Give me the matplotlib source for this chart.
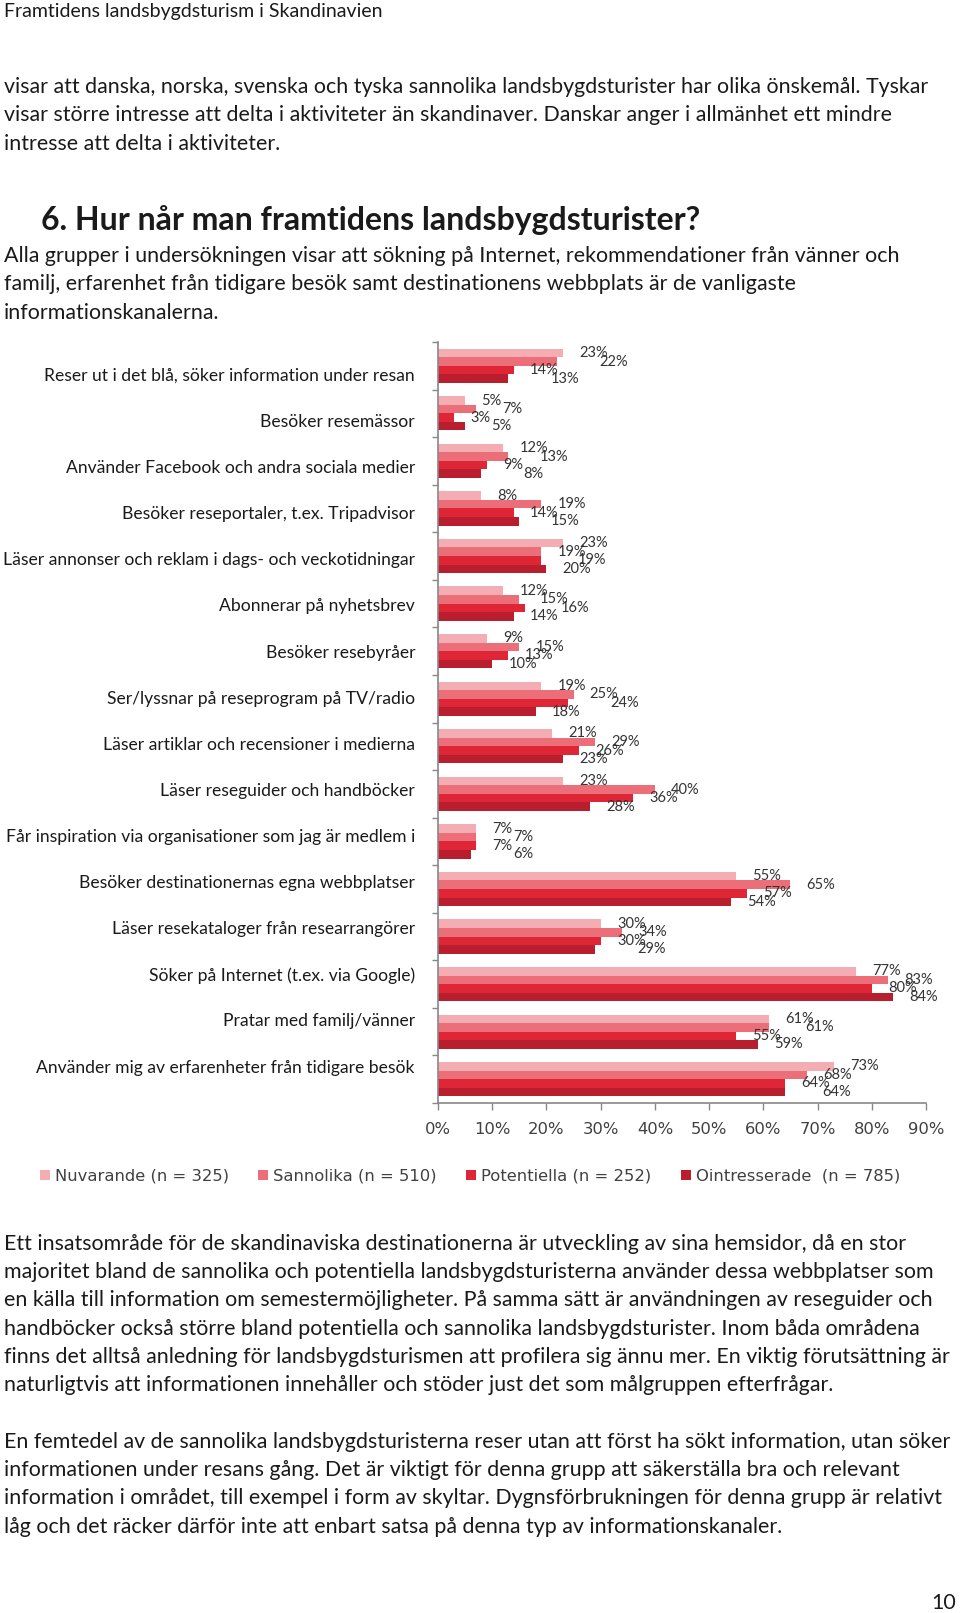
import numpy as np
import matplotlib
matplotlib.use("Agg")
from matplotlib import pyplot as plt
from matplotlib.patches import Patch

# data, listed top to bottom as in the chart
categories = [
    "Reser ut i det blå, söker information under resan",
    "Besöker resemässor",
    "Använder Facebook och andra sociala medier",
    "Besöker reseportaler, t.ex. Tripadvisor",
    "Läser annonser och reklam i dags- och veckotidningar",
    "Abonnerar på nyhetsbrev",
    "Besöker resebyråer",
    "Ser/lyssnar på reseprogram på TV/radio",
    "Läser artiklar och recensioner i medierna",
    "Läser reseguider och handböcker",
    "Får inspiration via organisationer som jag är medlem i",
    "Besöker destinationernas egna webbplatser",
    "Läser resekataloger från researrangörer",
    "Söker på Internet (t.ex. via Google)",
    "Pratar med familj/vänner",
    "Använder mig av erfarenheter från tidigare besök",
]
nuvarande = [23, 5, 12, 8, 23, 12, 9, 19, 21, 23, 7, 55, 30, 77, 61, 73]
sannolika = [22, 7, 13, 19, 19, 15, 15, 25, 29, 40, 7, 65, 34, 83, 61, 68]
potentiella = [14, 3, 9, 14, 19, 16, 13, 24, 26, 36, 7, 57, 30, 80, 55, 64]
ointresserade = [13, 5, 8, 15, 20, 14, 10, 18, 23, 28, 6, 54, 29, 84, 59, 64]
series_names = ["Nuvarande (n = 325)", "Sannolika (n = 510)",
                "Potentiella (n = 252)", "Ointresserade  (n = 785)"]
x_ticks = [0, 10, 20, 30, 40, 50, 60, 70, 80, 90]

colors = ["#f4adb3", "#eb6e78", "#de2637", "#b81e2e"]
series = [nuvarande, sannolika, potentiella, ointresserade]

W, H = 960, 1613
fig = plt.figure(figsize=(W / 100, H / 100), dpi=100)
body_font = "Lato"
txt_col = "#1a1a1a"
body_size = 15.4

def put(x, y, s, size=body_size, **kw):
    # x, y in pixels from top-left of the page
    fig.text(x / W, 1 - y / H, s, fontsize=size, family=body_font,
             color=kw.pop("color", txt_col), va="center", ha=kw.pop("ha", "left"), **kw)

put(4, 11, "Framtidens landsbygdsturism i Skandinavien", size=14.0)

para1 = ["visar att danska, norska, svenska och tyska sannolika landsbygdsturister har olika önskemål. Tyskar",
         "visar större intresse att delta i aktiviteter än skandinaver. Danskar anger i allmänhet ett mindre",
         "intresse att delta i aktiviteter."]
for i, line in enumerate(para1):
    put(4, 87 + i * 28.3, line)

put(41, 220, "6. Hur når man framtidens landsbygdsturister?", size=23, weight="bold")

para2 = ["Alla grupper i undersökningen visar att sökning på Internet, rekommendationer från vänner och",
         "familj, erfarenhet från tidigare besök samt destinationens webbplats är de vanligaste",
         "informationskanalerna."]
for i, line in enumerate(para2):
    put(4, 256 + i * 28.3, line)

para3 = ["Ett insatsområde för de skandinaviska destinationerna är utveckling av sina hemsidor, då en stor",
         "majoritet bland de sannolika och potentiella landsbygdsturisterna använder dessa webbplatser som",
         "en källa till information om semestermöjligheter. På samma sätt är användningen av reseguider och",
         "handböcker också större bland potentiella och sannolika landsbygdsturister. Inom båda områdena",
         "finns det alltså anledning för landsbygdsturismen att profilera sig ännu mer. En viktig förutsättning är",
         "naturligtvis att informationen innehåller och stöder just det som målgruppen efterfrågar."]
for i, line in enumerate(para3):
    put(4, 1244 + i * 28.2, line)

para4 = ["En femtedel av de sannolika landsbygdsturisterna reser utan att först ha sökt information, utan söker",
         "informationen under resans gång. Det är viktigt för denna grupp att säkerställa bra och relevant",
         "information i området, till exempel i form av skyltar. Dygnsförbrukningen för denna grupp är relativt",
         "låg och det räcker därför inte att enbart satsa på denna typ av informationskanaler."]
for i, line in enumerate(para4):
    put(4, 1442 + i * 28.2, line)

put(956, 1603, "10", size=body_size, ha="right")

# chart
ax = fig.add_axes([438 / W, 1 - 1103 / H, 488 / W, 761 / H])
n = len(categories)
pos = np.arange(n)[::-1]
h = 0.18
offsets = [1.5 * h, 0.5 * h, -0.5 * h, -1.5 * h]
for vals, c, off in zip(series, colors, offsets):
    ax.barh(pos + off, vals, height=h, color=c, linewidth=0)

# data labels, nudged sideways when neighbouring values sit close together
for k in range(n):
    prev_x = None
    for vals, off in zip(series, offsets):
        lx = vals[k] + 3.0
        if prev_x is not None and abs(lx - prev_x) < 3.5:
            lx = prev_x + 3.8 if lx >= prev_x - 1 else lx
        ax.text(lx, pos[k] + off, f"{vals[k]}%", fontsize=10.5, family=body_font,
                color="#333333", va="center", ha="left")
        prev_x = lx

ax.set_xlim(0, 90)
ax.set_ylim(-0.5, n - 0.5)
ax.set_xticks(x_ticks)
ax.set_xticklabels([f"{t}%" for t in x_ticks], fontsize=11.8, color="#404040",
                   family="DejaVu Sans")
ax.set_yticks(np.arange(-0.5, n, 1))
ax.set_yticklabels([])
ax.tick_params(axis="y", length=4, color="#888888", width=1)
ax.tick_params(axis="x", length=5, color="#888888", width=1, pad=8.5)
for s in ["top", "right"]:
    ax.spines[s].set_visible(False)
for s in ["left", "bottom"]:
    ax.spines[s].set_color("#888888")
    ax.spines[s].set_linewidth(1.2)

# category names sit on their own, slightly tighter rhythm than the bars
for i, name in enumerate(categories):
    put(415, 376 + i * 46.1, name, size=12.6, ha="right")

handles = [Patch(facecolor=c, edgecolor="none") for c in colors]
leg = fig.legend(handles, series_names, loc="center", ncol=4,
                 bbox_to_anchor=(470 / W, 1 - 1176 / H), frameon=False,
                 handlelength=0.6, handleheight=0.6, handletextpad=0.3,
                 columnspacing=1.8, prop={"family": "DejaVu Sans", "size": 11.8})
for t in leg.get_texts():
    t.set_color("#404040")

fig.savefig("out.png", dpi=100)
